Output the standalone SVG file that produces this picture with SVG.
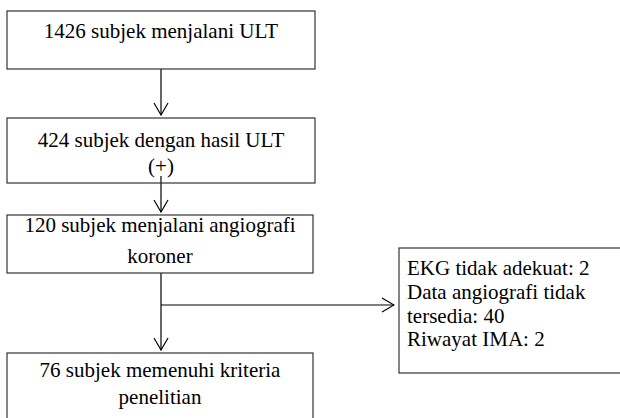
<svg xmlns="http://www.w3.org/2000/svg" width="620" height="418" viewBox="0 0 620 418">
<defs>
<marker id="ah" viewBox="0 0 14 16" refX="13" refY="8" markerWidth="14" markerHeight="16" markerUnits="userSpaceOnUse" orient="auto">
<path d="M1,1 L13,8 L1,15" fill="none" stroke="#000" stroke-width="1.2"/>
</marker>
</defs>
<rect width="620" height="418" fill="#fff"/>
<g id="connectors" fill="none" stroke="#000" stroke-width="1.2">
<line x1="161" y1="69" x2="161" y2="115" marker-end="url(#ah)"/>
<line x1="161" y1="176" x2="161" y2="212" marker-end="url(#ah)"/>
<line x1="161" y1="273" x2="161" y2="350" marker-end="url(#ah)"/>
<line x1="161" y1="305" x2="394" y2="305" marker-end="url(#ah)"/>
</g>
<g id="n1" text-anchor="middle">
<rect x="7" y="11" width="308" height="58" fill="#fff" stroke="#333" stroke-width="1.2"/>
<text x="161" y="38" style="font-family:'Liberation Serif';font-size:21px">1426 subjek menjalani ULT</text>
</g>
<g id="n2" text-anchor="middle">
<rect x="7" y="118" width="308" height="65" fill="none" stroke="#333" stroke-width="1.2"/>
<text x="161" y="147" style="font-family:'Liberation Serif';font-size:21px">424 subjek dengan hasil ULT</text>
<text x="161" y="173" style="font-family:'Liberation Serif';font-size:21px">(+)</text>
</g>
<g id="n3" text-anchor="middle">
<rect x="7" y="215" width="306" height="58" fill="#fff" stroke="#333" stroke-width="1.2"/>
<text x="160" y="232" style="font-family:'Liberation Serif';font-size:21px">120 subjek menjalani angiografi</text>
<text x="160" y="263" style="font-family:'Liberation Serif';font-size:21px">koroner</text>
</g>
<g id="n4" text-anchor="middle">
<rect x="7" y="353" width="306" height="80" fill="#fff" stroke="#333" stroke-width="1.2"/>
<text x="160" y="377" style="font-family:'Liberation Serif';font-size:21px">76 subjek memenuhi kriteria</text>
<text x="160" y="404" style="font-family:'Liberation Serif';font-size:21px">penelitian</text>
</g>
<g id="n5">
<rect x="399" y="248" width="240" height="125" fill="#fff" stroke="#333" stroke-width="1.2"/>
<text x="407" y="275" style="font-family:'Liberation Serif';font-size:21px">EKG tidak adekuat: 2</text>
<text x="407" y="299" style="font-family:'Liberation Serif';font-size:21px">Data angiografi tidak</text>
<text x="407" y="323" style="font-family:'Liberation Serif';font-size:21px">tersedia: 40</text>
<text x="407" y="346" style="font-family:'Liberation Serif';font-size:21px">Riwayat IMA: 2</text>
</g>
</svg>
